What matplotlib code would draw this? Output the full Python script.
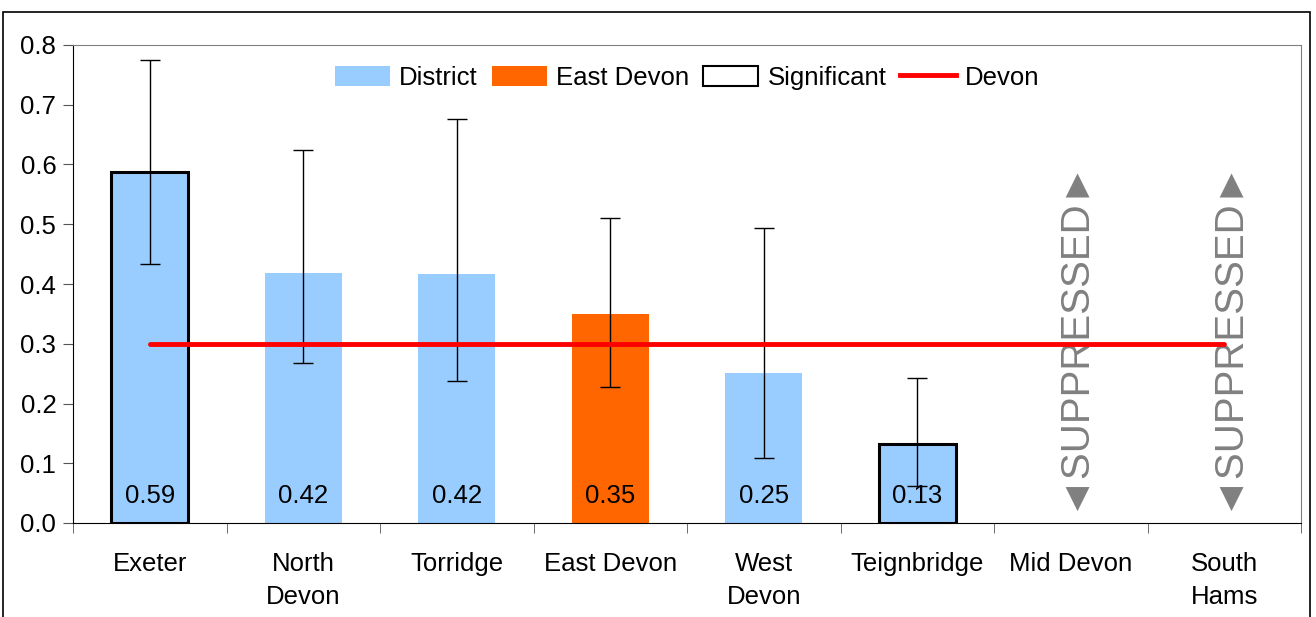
import matplotlib
matplotlib.use("Agg")
import matplotlib.pyplot as plt
from matplotlib.patches import Patch, Rectangle
from matplotlib.lines import Line2D
import numpy as np

plt.rcParams['font.family'] = ['Liberation Sans', 'DejaVu Sans']

categories = ["Exeter", "North\nDevon", "Torridge", "East Devon", "West\nDevon",
              "Teignbridge", "Mid Devon", "South\nHams"]
values = [0.587, 0.418, 0.417, 0.350, 0.251, 0.132]
labels = ["0.59", "0.42", "0.42", "0.35", "0.25", "0.13"]
ci_upper = [0.775, 0.624, 0.676, 0.511, 0.494, 0.243]
ci_lower = [0.433, 0.268, 0.238, 0.228, 0.108, 0.062]
significant = [True, False, False, False, False, True]
highlight = "East Devon"
suppressed = ["Mid Devon", "South\nHams"]
devon_value = 0.30

c_district = "#99CCFF"
c_east = "#FF6600"
c_devon = "#FF0000"

fig = plt.figure(figsize=(13.16, 6.17), dpi=100)
ax = fig.add_axes([73/1316, 94/617, (1301-73)/1316, (523-45)/617])

x = np.arange(len(categories))
n = len(values)
colors = [c_east if categories[i] == highlight else c_district for i in range(n)]
edges = ["black" if s else "none" for s in significant]
lws = [2.2 if s else 0 for s in significant]
ax.bar(x[:n], values, width=0.5, color=colors, edgecolor=edges, linewidth=lws, zorder=2)

yerr = [np.array(values) - np.array(ci_lower), np.array(ci_upper) - np.array(values)]
ax.errorbar(x[:n], values, yerr=yerr, fmt="none", ecolor="black", elinewidth=1,
            capsize=7, capthick=1, zorder=3)

ax.plot([x[0], x[-1]], [devon_value, devon_value], color=c_devon, lw=3.5,
        solid_capstyle="round", zorder=4)

for i in range(n):
    ax.text(x[i], 0.045, labels[i], ha="center", va="center", fontsize=18.5, zorder=5)

for name in suppressed:
    i = categories.index(name)
    ax.text(x[i], 0.316, "◄SUPPRESSED►", rotation=90, ha="center", va="center",
            fontsize=29, color="#808080", zorder=1)

ax.set_xlim(-0.5, len(categories) - 0.5)
ax.set_ylim(0, 0.8)
ax.set_yticks(np.arange(0, 0.81, 0.1))
ax.set_yticklabels([f"{v:.1f}" for v in np.arange(0, 0.81, 0.1)], fontsize=18.5)
ax.set_xticks(x)
ax.set_xticklabels(categories, fontsize=18.5, linespacing=1.45)
ax.tick_params(axis="x", length=0, pad=21)
ax.set_xticks(np.arange(-0.5, len(categories)), minor=True)
ax.tick_params(axis="x", which="minor", length=7, color="#555555", direction="out")
ax.tick_params(axis="y", length=7, color="#555555", direction="out", pad=5)

ax.spines["top"].set_color("#808080")
ax.spines["right"].set_color("#808080")
ax.spines["left"].set_color("black")
ax.spines["bottom"].set_color("black")

handles = [Patch(facecolor=c_district, edgecolor="none"),
           Patch(facecolor=c_east, edgecolor="none"),
           Patch(facecolor="white", edgecolor="black", linewidth=1.5),
           Line2D([0], [0], color=c_devon, lw=3.5)]
ax.legend(handles, ["District", "East Devon", "Significant", "Devon"],
          loc="upper center", bbox_to_anchor=(0.5, 1.005), ncol=4, frameon=False,
          fontsize=18.5, handlelength=2.15, handleheight=0.85, handletextpad=0.35,
          columnspacing=0.55)

fig.add_artist(Rectangle((3/1316, -0.1), (1310-3)/1316, (617-12)/617 + 0.1,
                         transform=fig.transFigure, fill=False, edgecolor="black",
                         linewidth=1.2))

fig.savefig("out.png", dpi=100)
